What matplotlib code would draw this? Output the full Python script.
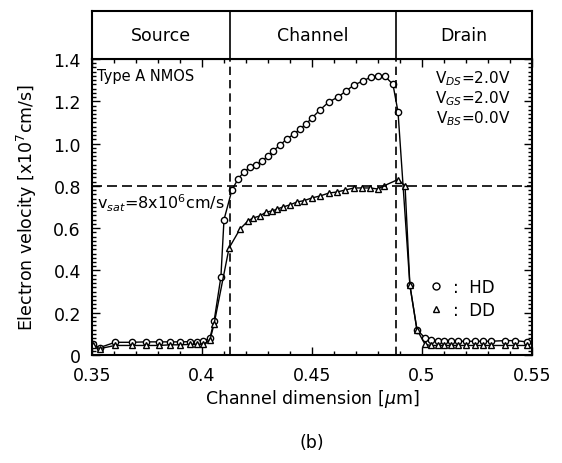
import matplotlib.pyplot as plt
from matplotlib.lines import Line2D
from matplotlib.ticker import MultipleLocator

plt.rcParams['font.family'] = ['DejaVu Sans']

# HD (hydrodynamic) points
hd_x = [0.3505, 0.3535, 0.3605, 0.368, 0.3745, 0.3805, 0.3855, 0.39, 0.3945, 0.3977,
        0.4005, 0.4036, 0.4055, 0.4086, 0.41, 0.4136, 0.4164, 0.4191, 0.4218, 0.4245,
        0.4273, 0.43, 0.4323, 0.4355, 0.4386, 0.4418, 0.4445, 0.4473, 0.45, 0.4536,
        0.4577, 0.4618, 0.4655, 0.4691, 0.4732, 0.4768, 0.48, 0.4832, 0.4868, 0.4891,
        0.4945, 0.4977, 0.5014, 0.5041, 0.5073, 0.51, 0.5132, 0.5164, 0.52, 0.5241,
        0.5277, 0.5314, 0.5377, 0.5423, 0.5477]
hd_v = [0.05, 0.035, 0.06, 0.06, 0.062, 0.062, 0.062, 0.062, 0.063, 0.063,
        0.065, 0.08, 0.16, 0.37, 0.64, 0.78, 0.833, 0.866, 0.889, 0.899,
        0.918, 0.941, 0.965, 0.993, 1.022, 1.045, 1.069, 1.093, 1.121, 1.159,
        1.197, 1.220, 1.249, 1.277, 1.296, 1.315, 1.320, 1.318, 1.28, 1.15,
        0.33, 0.12, 0.08, 0.07, 0.068, 0.068, 0.068, 0.065, 0.065, 0.065,
        0.065, 0.065, 0.068, 0.068, 0.062]

# DD (drift-diffusion) points
dd_x = [0.3505, 0.3535, 0.3605, 0.368, 0.3745, 0.3805, 0.3855, 0.39, 0.3945, 0.3977,
        0.4005, 0.4036, 0.4055, 0.4123, 0.4173, 0.4209, 0.4232, 0.4264, 0.4291, 0.4318,
        0.4341, 0.4368, 0.44, 0.4432, 0.4464, 0.45, 0.4536, 0.4577, 0.4614, 0.465,
        0.4691, 0.4727, 0.4764, 0.48, 0.4827, 0.4891, 0.4923, 0.4945, 0.4977, 0.5014,
        0.5041, 0.5073, 0.51, 0.5132, 0.5164, 0.52, 0.5241, 0.5277, 0.5314, 0.5377,
        0.5423, 0.5477]
dd_v = [0.045, 0.03, 0.045, 0.045, 0.045, 0.045, 0.048, 0.048, 0.05, 0.05,
        0.05, 0.07, 0.147, 0.506, 0.596, 0.634, 0.648, 0.658, 0.676, 0.681,
        0.69, 0.70, 0.71, 0.724, 0.73, 0.743, 0.752, 0.766, 0.771, 0.78,
        0.79, 0.79, 0.79, 0.785, 0.80, 0.83, 0.80, 0.33, 0.12, 0.05,
        0.045, 0.045, 0.045, 0.045, 0.045, 0.045, 0.045, 0.045, 0.045, 0.045,
        0.045, 0.045]

regions = ["Source", "Channel", "Drain"]
edges = [0.35, 0.4127, 0.4882, 0.55]
v_sat = 0.8
x_ticks = [0.35, 0.4, 0.45, 0.5, 0.55]
x_labels = ['0.35', '0.4', '0.45', '0.5', '0.55']
y_ticks = [0, 0.2, 0.4, 0.6, 0.8, 1.0, 1.2, 1.4]
y_labels = ['0', '0.2', '0.4', '0.6', '0.8', '1.0', '1.2', '1.4']

fig = plt.figure(figsize=(5.62, 4.64), dpi=100)
ax = fig.add_axes([0.1637, 0.2328, 0.7829, 0.6379])
hdr = fig.add_axes([0.1637, 0.8707, 0.7829, 0.1035])

ax.plot(hd_x, hd_v, color='black', lw=1, marker='o', ms=4.5, mfc='white', mec='black', mew=1)
ax.plot(dd_x, dd_v, color='black', lw=1, marker='^', ms=5, mfc='white', mec='black', mew=1)

for e in edges[1:-1]:
    ax.axvline(e, color='black', lw=1.2, ls=(0, (5, 3)))
    hdr.axvline(e, color='black', lw=1.2)
ax.axhline(v_sat, color='black', lw=1.2, ls=(0, (6, 3)))

ax.set_xlim(0.35, 0.55)
ax.set_ylim(0, 1.4)
ax.set_xticks(x_ticks)
ax.set_xticklabels(x_labels)
ax.set_yticks(y_ticks)
ax.set_yticklabels(y_labels)
ax.xaxis.set_minor_locator(MultipleLocator(0.01))
ax.yaxis.set_minor_locator(MultipleLocator(0.02))
ax.tick_params(which='both', direction='in', top=True, right=True, labelsize=12.5, width=1)
ax.tick_params(which='major', length=6, pad=8)
ax.tick_params(which='minor', length=3)
for s in ax.spines.values():
    s.set_linewidth(1.5)

ax.set_xlabel('Channel dimension [$\\mu$m]', fontsize=12.5, labelpad=2)
ax.set_ylabel('Electron velocity [x10$^7$cm/s]', fontsize=12.5, labelpad=10)

ax.text(0.012, 0.97, 'Type A NMOS', transform=ax.transAxes, fontsize=10.5, va='top')
ax.text(0.95, 0.97, 'V$_{DS}$=2.0V\nV$_{GS}$=2.0V\nV$_{BS}$=0.0V', transform=ax.transAxes,
        fontsize=11, va='top', ha='right', linespacing=1.1)
ax.text(0.012, 0.515, 'v$_{sat}$=8x10$^6$cm/s', transform=ax.transAxes, fontsize=11.5, va='center')

handles = [Line2D([], [], ls='none', marker='o', ms=5, mfc='white', mec='black'),
           Line2D([], [], ls='none', marker='^', ms=5, mfc='white', mec='black')]
ax.legend(handles, [':  HD', ':  DD'], loc='lower right', bbox_to_anchor=(0.95, 0.07),
          frameon=False, fontsize=12, handletextpad=0.5, handlelength=1, labelspacing=0.3)

hdr.set_xlim(0.35, 0.55)
hdr.set_ylim(0, 1)
hdr.set_xticks([])
hdr.set_yticks([])
for s in hdr.spines.values():
    s.set_linewidth(1.5)
for i, name in enumerate(regions):
    hdr.text((edges[i] + edges[i + 1]) / 2, 0.5, name, ha='center', va='center', fontsize=12.5)

fig.text(0.555, 0.045, '(b)', ha='center', va='center', fontsize=12.5)

fig.savefig('out.png', dpi=100, facecolor='white')
